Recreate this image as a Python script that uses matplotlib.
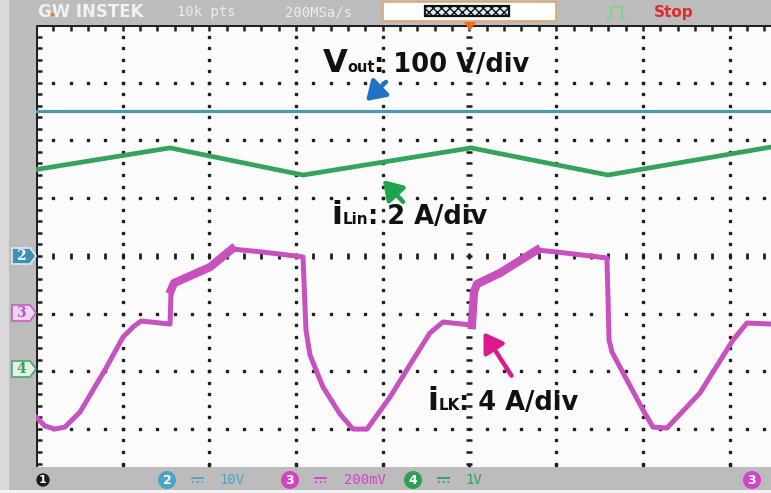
import numpy as np
import matplotlib.pyplot as plt
from matplotlib.patches import Polygon, Rectangle, FancyArrowPatch
from matplotlib.lines import Line2D

# scope settings: 10k pts @ 200MSa/s -> 5 us/div
us_per_div = 5.0
vout_scale, vout_ref = 100.0, 0.0   # ch2, V/div, marker position (div)
ilk_scale, ilk_ref = 4.0, -1.0      # ch3, A/div
ilin_scale, ilin_ref = 2.0, -2.0    # ch4, A/div

# waveforms (time in us)
vout_t = [0.0, 42.4]
vout = [251.5, 251.5]

ilin_t = [0.0, 7.73, 15.40, 25.09, 32.99, 42.39]
ilin = [6.99, 7.74, 6.80, 7.74, 6.80, 7.77]

ilk_t = [0.0, 0.52, 1.10, 1.67, 2.54, 4.04, 5.02, 5.59, 6.06, 7.73, 7.79, 7.96,
         10.04, 11.30, 13.09, 15.40, 15.57, 15.80, 16.55, 17.53, 18.28, 19.09,
         20.42, 21.74, 22.72, 23.47, 25.14, 25.26, 25.43, 26.76, 28.89, 30.05,
         32.93, 33.05, 33.22, 34.08, 35.01, 35.58, 36.39, 38.29, 40.20, 41.00, 42.39]
ilk = [-7.18, -7.80, -8.01, -7.87, -6.83, -3.78, -1.63, -0.94, -0.52, -0.73, 1.63, 2.11,
       3.22, 4.47, 4.26, 3.92, -1.14, -2.87, -5.09, -6.96, -8.01, -8.01,
       -5.79, -3.22, -1.35, -0.59, -0.80, 1.49, 2.04, 2.81, 4.40, 4.26,
       3.85, -1.84, -2.67, -4.61, -6.69, -7.87, -7.94, -5.51, -1.84, -0.66, -0.73]

W, H = 771, 493


def P(x, y):
    # screenshot pixel -> figure fraction
    return x / W, 1 - y / H


fig = plt.figure(figsize=(W / 100, H / 100), dpi=100, facecolor='#bcbcbc')
fig.add_artist(Rectangle((0, 0), 9 / W, 1, transform=fig.transFigure,
                         fc='#dadada', ec='none'))
fig.add_artist(Rectangle((0, 0), 1, 3 / H, transform=fig.transFigure,
                         fc='#f4f4f4', ec='none'))

x0, y0 = P(36, 467)
x1, y1 = P(771, 25)
ax = fig.add_axes([x0, y0, x1 - x0, y1 - y0])
ax.set_facecolor('#fbfbfb')
ax.set_xlim(0, 8.478)
ax.set_ylim(-3.66, 4.0)
ax.set_xticks([])
ax.set_yticks([])
for s in ax.spines.values():
    s.set_visible(False)

# dotted graticule
dot = dict(ls='none', marker='s', ms=1.9, color='#1e1e1e', zorder=1)
ydots = np.arange(-3.6, 4.01, 0.2)
xdots = np.arange(0.2, 8.5, 0.2)
for gx in range(1, 9):
    if gx == 5:
        ax.plot([gx] * len(ydots), ydots, ls='none', marker='_', ms=5,
                mew=1.8, color='#1e1e1e', zorder=1)
    else:
        ax.plot([gx] * len(ydots), ydots, **dot)
for gy in range(-3, 4):
    if gy == 0:
        ax.plot(xdots, [gy] * len(xdots), ls='none', marker='|', ms=4,
                mew=2, color='#1e1e1e', zorder=1)
    else:
        ax.plot(xdots, [gy] * len(xdots), **dot)
# border with ticks
ax.axvline(0, color='#222222', lw=2.2, zorder=2)
ax.axhline(4.0, color='#222222', lw=2.2, zorder=2)
ax.plot([0.03] * len(ydots), ydots, ls='none', marker='_', ms=5, mew=1.8,
        color='#222222', zorder=2)
ax.plot(xdots, [3.95] * len(xdots), ls='none', marker='|', ms=5, mew=1.8,
        color='#222222', zorder=2)
ax.plot(range(1, 9), [-3.62] * 8, ls='none', marker='s', ms=2, color='#222222')

# traces
ax.plot(np.array(vout_t) / us_per_div, np.array(vout) / vout_scale + vout_ref,
        color='#4d97b1', lw=2.3, zorder=3)
ax.plot(np.array(ilin_t) / us_per_div, np.array(ilin) / ilin_scale + ilin_ref,
        color='#35a35c', lw=3.4, zorder=3, solid_joinstyle='miter')
lk_x = np.array(ilk_t) / us_per_div
lk_y = np.array(ilk) / ilk_scale + ilk_ref
ax.plot(lk_x, lk_y, color='#c651bf', lw=3.6, zorder=3)
for a, b in [(10, 14), (26, 31)]:
    ax.plot(lk_x[a:b], lk_y[a:b], color='#c651bf', lw=6, zorder=3)

# annotations: big letter + small subscript + rest, chained left to right
font = 'DejaVu Sans'
renderer = fig.canvas.get_renderer()


def label(x, y, parts):
    for txt, size, gap in parts:
        t = fig.text(*P(x, y), txt, fontsize=size, fontweight='bold', family=font,
                     va='baseline', color='#111111')
        x = t.get_window_extent(renderer).x1 + gap


label(323, 72, [('V', 23, 0), ('out', 10.5, -1), (': 100 V/div', 18.5, 0)])
label(331, 224, [('i', 23, 1), ('Lin', 11, -1), (': 2 A/div', 18.5, 0)])
label(427, 410, [('i', 23, 1), ('LK', 11, -1), (': 4 A/div', 18.5, 0)])

for (xa, ya), (xb, yb), c in [((388, 80), (364, 103), '#1f72c4'),
                              ((405, 204), (381, 178), '#1ea34f'),
                              ((513, 378), (482, 330), '#e0168c')]:
    fig.add_artist(FancyArrowPatch(P(xa, ya), P(xb, yb), transform=fig.transFigure,
                                   arrowstyle='-|>,head_length=7,head_width=4.5',
                                   color=c, lw=3.2, mutation_scale=1.6))

# top bar
fig.text(*P(38, 12), 'GW INSTEK', fontsize=12, fontweight='bold', color='#f2f2f2',
         va='center', family='DejaVu Sans')
fig.add_artist(Line2D([P(48, 0)[0], P(58, 0)[0]], [P(0, 14)[1]] * 2,
                      transform=fig.transFigure, color='#e07a28', lw=2))
fig.text(*P(177, 12), '10k pts', fontsize=10, color='#ececec', va='center',
         family='DejaVu Sans Mono')
fig.text(*P(285, 12), '200MSa/s', fontsize=10, color='#ececec', va='center',
         family='DejaVu Sans Mono')
bx, by = P(383, 21)
fig.add_artist(Rectangle((bx, by), 173 / W, 19 / H, transform=fig.transFigure,
                         fc='white', ec='#e3a46a', lw=1.2))
ix, iy = P(425, 16)
fig.add_artist(Rectangle((ix, iy), 84 / W, 10 / H, transform=fig.transFigure,
                         fc='#d8eef4', ec='#111111', lw=1.6, hatch='xxxx'))
fig.add_artist(Polygon([P(464, 22), P(476, 22), P(470, 31)], closed=True,
                       transform=fig.transFigure, fc='#f26a1b', ec='none'))
gx_, gy_ = zip(*[P(608, 19), P(611, 19), P(611, 7), P(622, 7), P(622, 19), P(625, 19)])
fig.add_artist(Line2D(gx_, gy_, transform=fig.transFigure, color='#7ad68a', lw=1.4))
fig.text(*P(654, 12), 'Stop', fontsize=11, fontweight='bold', color='#e12a2a',
         va='center', family='DejaVu Sans')

# channel markers on the left
for yc, fc, ec, tc, n in [(256, '#3f8fb6', '#d8ecf4', 'white', '2'),
                          (313, '#efd6ee', '#c65fc0', '#c24dbb', '3'),
                          (369, '#e3f1e6', '#4aa865', '#3f9c5a', '4')]:
    fig.add_artist(Polygon([P(12, yc - 8), P(30, yc - 8), P(36, yc), P(30, yc + 8),
                            P(12, yc + 8)], closed=True, transform=fig.transFigure,
                           fc=fc, ec=ec, lw=1.2))
    fig.text(*P(21, yc), n, fontsize=10, color=tc, ha='center', va='center',
             fontweight='bold', family='DejaVu Serif')

# bottom bar
by_ = 480
fig.text(*P(43, by_), '1', fontsize=8, color='white', ha='center', va='center',
         fontweight='bold', bbox=dict(boxstyle='circle,pad=0.15', fc='#1a1a1a', ec='none'))
for xc, c, n, unit in [(167, '#4aa3c9', '2', '10V'), (290, '#d243c6', '3', '200mV'),
                       (413, '#2f9f57', '4', '1V')]:
    fig.text(*P(xc, by_), n, fontsize=9, color='white', ha='center', va='center',
             fontweight='bold', bbox=dict(boxstyle='circle,pad=0.2', fc=c, ec='none'))
    for dy, ls in [(-2, '-'), (2, ':')]:
        fig.add_artist(Line2D([P(xc + 25, 0)[0], P(xc + 36, 0)[0]],
                              [P(0, by_ + dy)[1]] * 2, transform=fig.transFigure,
                              color=c, lw=1.3, ls=ls))
    fig.text(*P(xc + 52 if n != '3' else xc + 54, by_), unit, fontsize=10, color=c,
             va='center', family='DejaVu Sans Mono')
fig.text(*P(752, by_), '3', fontsize=9, color='white', ha='center', va='center',
         fontweight='bold', bbox=dict(boxstyle='circle,pad=0.2', fc='#d243c6', ec='none'))

fig.savefig('out.png', dpi=100, facecolor=fig.get_facecolor())
